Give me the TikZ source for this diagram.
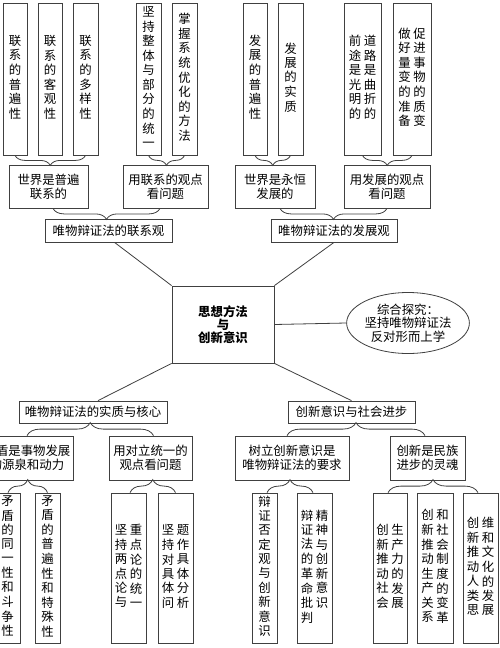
\documentclass[tikz,border=0pt]{standalone}
\usepackage{fontspec}
\setmainfont{Noto Sans CJK SC}
\usetikzlibrary{decorations.pathreplacing,calc,shapes.geometric}
\newcommand\vc[1]{\begin{tabular}[t]{@{}c@{}}#1\end{tabular}}
\newcommand\cgap{\hspace{2.5pt}}
\tikzset{
  box/.style={draw=black!75, line width=0.8pt, inner sep=0pt, align=center,
    font=\fontsize{12.4}{14}\selectfont, text=black},
  tall/.style={box, minimum height=152pt},
  low/.style={box, minimum height=150pt},
  mid/.style={box, minimum height=44pt},
  thin/.style={box, minimum height=23pt},
  brc/.style={draw=black!75, line width=0.8pt, decorate, decoration={brace, amplitude=#1}},
  brcm/.style={draw=black!75, line width=0.8pt, decorate, decoration={brace, amplitude=#1, mirror}},
  link/.style={draw=black!75, line width=0.8pt},
}
\begin{document}
\begin{tikzpicture}[x=1pt,y=-1pt]
\useasboundingbox (0,0) rectangle (500,648);
\fill[white] (0,0) rectangle (500,648);
\clip (0,0) rectangle (500,648);

% top tall boxes
\node[tall, minimum width=24pt] (t1) at (15,79) {\vc{联\\系\\的\\普\\遍\\性}};
\node[tall, minimum width=24pt] (t2) at (50,79) {\vc{联\\系\\的\\客\\观\\性}};
\node[tall, minimum width=25pt] (t3) at (85.5,79) {\vc{联\\系\\的\\多\\样\\性}};
\node[tall, minimum width=25pt] (t4) at (148.5,79) {\vc{坚\\持\\整\\体\\与\\部\\分\\的\\统\\一}};
\node[tall, minimum width=25pt] (t5) at (184.5,79) {\vc{掌\\握\\系\\统\\优\\化\\的\\方\\法}};
\node[tall, minimum width=24pt] (t6) at (255,79) {\vc{发\\展\\的\\普\\遍\\性}};
\node[tall, minimum width=25pt] (t7) at (290.5,79) {\vc{发\\展\\的\\实\\质}};
\node[tall, minimum width=37pt] (t8) at (362.5,79) {\vc{前\\途\\是\\光\\明\\的}\cgap\vc{道\\路\\是\\曲\\折\\的}};
\node[tall, minimum width=38pt] (t9) at (412,79) {\vc{做\\好\\量\\变\\的\\准\\备}\cgap\vc{促\\进\\事\\物\\的\\质\\变}};

% second row
\node[mid, minimum width=79pt, minimum height=43pt] (m1) at (48.5,186.5) {世界是普遍\\联系的};
\node[mid, minimum width=85pt, minimum height=43pt] (m2) at (165.5,186.5) {用联系的观点\\看问题};
\node[mid, minimum width=80pt, minimum height=43pt] (m3) at (275,186.5) {世界是永恒\\发展的};
\node[mid, minimum width=86pt, minimum height=43pt] (m4) at (387,186.5) {用发展的观点\\看问题};

% third row
\node[thin, minimum width=127pt] (lx) at (108.5,230.5) {唯物辩证法的联系观};
\node[thin, minimum width=126pt] (fz) at (334,230.5) {唯物辩证法的发展观};

% centre
\node[box, minimum width=102pt, minimum height=77pt, font=\fontsize{12.4}{13.2}\selectfont\bfseries] (ctr) at (223,324.5) {思想方法\\与\\创新意识};
\node[box, ellipse, minimum width=117pt, minimum height=61pt, font=\fontsize{12.4}{13.5}\selectfont] (ell) at (408,323) {综合探究：\\坚持唯物辩证法\\反对形而上学};

% fourth row
\node[thin, minimum width=148pt, minimum height=22pt] (sz) at (93,412) {唯物辩证法的实质与核心};
\node[thin, minimum width=127pt, minimum height=22pt] (cs) at (351.5,412) {创新意识与社会进步};

% fifth row
\node[mid, minimum width=93pt] (b1) at (27,458) {矛盾是事物发展\\的源泉和动力};
\node[mid, minimum width=83pt] (b2) at (150.5,458) {用对立统一的\\观点看问题};
\node[mid, minimum width=114pt] (b3) at (292,458) {树立创新意识是\\唯物辩证法的要求};
\node[mid, minimum width=75pt] (b4) at (427.5,458) {创新是民族\\进步的灵魂};

% bottom tall boxes
\node[low, minimum width=25pt] (c1) at (7.5,568) {\vc{矛\\盾\\的\\同\\一\\性\\和\\斗\\争\\性}};
\node[low, minimum width=25pt] (c2) at (47.5,568) {\vc{矛\\盾\\的\\普\\遍\\性\\和\\特\\殊\\性}};
\node[low, minimum width=35pt] (c3) at (128.5,568) {\vc{坚\\持\\两\\点\\论\\与}\cgap\vc{重\\点\\论\\的\\统\\一}};
\node[low, minimum width=35pt] (c4) at (175.5,568) {\vc{坚\\持\\对\\具\\体\\问}\cgap\vc{题\\作\\具\\体\\分\\析}};
\node[low, minimum width=25pt] (c5) at (264.5,568) {\vc{辩\\证\\否\\定\\观\\与\\创\\新\\意\\识}};
\node[low, minimum width=35pt] (c6) at (314.5,568) {\vc{辩\\证\\法\\的\\革\\命\\批\\判}\cgap\vc{精\\神\\与\\创\\新\\意\\识}};
\node[low, minimum width=34pt] (c7) at (390,568) {\vc{创\\新\\推\\动\\社\\会}\cgap\vc{生\\产\\力\\的\\发\\展}};
\node[low, minimum width=36pt] (c8) at (435,568) {\vc{创\\新\\推\\动\\生\\产\\关\\系}\cgap\vc{和\\社\\会\\制\\度\\的\\变\\革}};
\node[low, minimum width=35pt] (c9) at (480.5,568) {\vc{创\\新\\推\\动\\人\\类\\思}\cgap\vc{维\\和\\文\\化\\的\\发\\展}};

% braces, top half (tip down)
\draw[brcm=10pt] (t1.south) -- (t3.south);
\draw[brcm=10pt] (t4.south) -- (t5.south);
\draw[brcm=10pt] (t6.south) -- (t7.south);
\draw[brcm=10pt] (t8.south) -- (t9.south);
\draw[brcm=11pt] ($(m1.south)+(4.5,0)$) -- ($(m2.south)+(-5.5,0)$);
\draw[brcm=11pt] ($(m3.south)+(5,0)$) -- (m4.south);

% braces, bottom half (tip up)
\draw[brc=13pt] (b1.north) -- ($(b2.north)+(3,0)$);
\draw[brc=13pt] ($(b3.north)+(-5,0)$) -- ($(b4.north)+(-2.5,0)$);
\draw[brc=13pt] ($(c1.north)+(0.5,0)$) -- (c2.north);
\draw[brc=13pt] ($(c3.north)+(1.5,0)$) -- (c4.north);
\draw[brc=13pt] ($(c5.north)+(2.5,0)$) -- ($(c6.north)+(-1.5,0)$);
\draw[brc=13pt] ($(c7.north)+(-2,0)$) -- ($(c9.north)+(-2.5,0)$);

% connectors
\draw[link] (ctr.north west) -- ($(lx.south)+(6,0)$);
\draw[link] (ctr.north east) -- (fz.south);
\draw[link] (ctr.south west) -- ($(sz.north)+(5,0)$);
\draw[link] (ctr.south east) -- (cs.north);
\draw[link] (ctr.east) -- (ell.west);
\end{tikzpicture}
\end{document}
